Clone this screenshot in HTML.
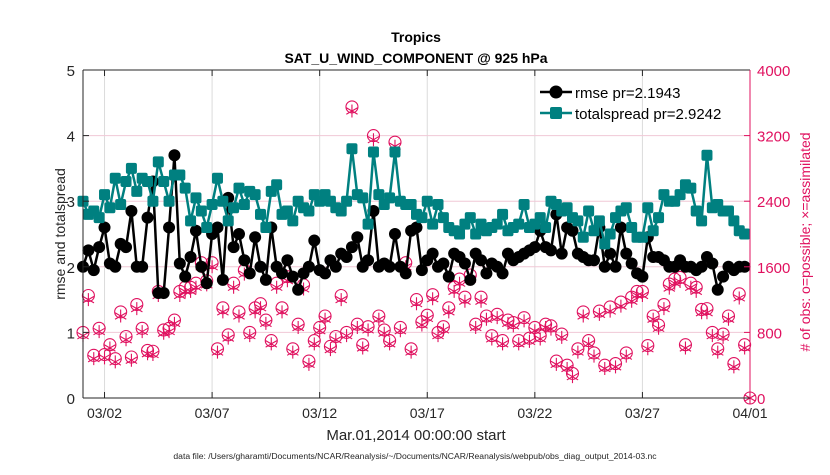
<!DOCTYPE html>
<html><head><meta charset="utf-8"><style>
body{margin:0;background:#fff;}
svg text{font-family:"Liberation Sans",sans-serif;}
</style></head><body>
<svg id="chart" width="830" height="470" viewBox="0 0 830 470" xmlns="http://www.w3.org/2000/svg">
<rect width="830" height="470" fill="#fff"/>
<g id="grid"></g>
<g id="series"></g>
<g id="axes"></g>
<text x="416" y="42" font-size="14" font-weight="bold" text-anchor="middle">Tropics</text>
<text x="416" y="63" font-size="14" font-weight="bold" text-anchor="middle">SAT_U_WIND_COMPONENT @ 925 hPa</text>
</svg>
<script>
const xTickLabels=["03/02","03/07","03/12","03/17","03/22","03/27","04/01"];
const xTickDays=[1,6,11,16,21,26,31];
const leftTicks=[0,1,2,3,4,5];
const rightTicks=[0,800,1600,2400,3200,4000];
const rmse=[2.0,2.25,1.95,2.3, 2.6,2.05,2.0,2.35, 2.3,2.85,2.0,2.0, 2.75,3.3,1.6,1.6, 2.6,3.7,2.05,1.85, 2.15,2.55,2.0,1.75, 2.5,2.6,1.8,3.05, 2.3,2.5,2.1,1.9, 2.45,2.0,1.8,2.6, 2.0,1.9,2.1,1.85, 1.65,1.9,2.0,2.4, 1.95,1.9,2.1,2.0, 2.2,2.15,2.3,2.45, 2.0,2.1,2.85,2.0, 2.05,2.0,2.5,2.0, 1.9,2.55,2.6,1.95, 2.1,2.2,2.0,2.05, 1.85,2.2,2.15,2.05, 1.8,2.2,2.1,1.9, 2.05,2.0,1.9,2.2, 2.1,2.15,2.2,2.25, 2.3,2.55,2.3,2.25, 2.8,2.2,2.6,2.55, 2.2,2.15,2.1,2.1, 2.6,2.0,2.2,2.0, 2.6,2.2,2.05,1.9, 1.85,2.45,2.15,2.15, 2.1,2.0,2.0,2.1, 2.0,2.0,1.95,2.0, 2.15,2.05,1.65,1.85, 2.0,1.95,2.0,2.0];
const spread=[3.0,2.8,2.85,2.75, 3.1,2.9,3.35,2.95, 3.3,3.5,3.15,3.35, 3.3,3.0,3.6,3.3, 3.0,3.4,3.4,3.2, 2.7,3.05,2.85,2.6, 2.95,3.35,3.0,2.7, 2.9,3.2,2.95,3.15, 3.1,2.8,2.6,3.15, 3.25,2.8,2.85,2.7, 3.0,2.9,2.85,3.1, 3.0,3.1,3.0,2.9, 2.85,3.0,3.8,3.1, 3.05,2.65,3.75,3.1, 2.95,3.05,3.75,3.0, 2.95,2.95,2.8,2.75, 3.0,2.65,2.95,2.75, 2.6,2.55,2.5,2.65, 2.75,2.5,2.65,2.55, 2.6,2.65,2.8,2.55, 2.6,2.65,2.95,2.6, 2.65,2.75,2.6,3.0, 2.95,2.85,2.9,2.75, 2.7,2.45,2.85,2.55, 2.7,2.35,2.5,2.75, 2.85,2.9,2.6,2.45, 2.45,2.9,2.55,2.75, 3.1,3.0,3.0,3.1, 3.25,3.2,2.85,2.7, 3.7,2.9,2.95,2.85, 2.85,2.7,2.55,2.5];
const obsPossible=[800,1250,520,850, 530,650,480,1050, 750,500,1140,850, 580,570,1300,830, 850,950,1300,1350, 1350,1400,1650,1430, 1650,600,1100,770, 1400,1050,1560,800, 1100,1150,950,700, 1400,1100,1480,600, 900,1380,450,700, 860,1000,630,750, 1250,800,3550,900, 650,870,3200,1000, 830,700,3120,860, 1650,600,1200,930, 1010,1260,800,870, 1100,1350,1450,1230, 1500,900,1230,1000, 760,1020,700,950, 920,700,980,730, 860,760,900,880, 450,780,400,300, 600,1050,700,550, 1060,400,1110,420, 1170,550,1230,1300, 1300,640,1000,890, 1140,1390,1450,1470, 650,1400,1350,1080, 1090,800,600,780, 1000,420,1270,650, 0];
const obsAssim=[760,1200,480,810, 490,610,440,1000, 710,460,1090,810, 540,530,1250,790, 810,910,1250,1300, 1300,1350,1600,1380, 1600,560,1050,730, 1350,1000,1510,760, 1050,1100,910,660, 1350,1050,1430,560, 860,1330,410,660, 820,960,590,710, 1200,760,3500,860, 610,830,3150,960, 790,660,3070,820, 1600,560,1150,890, 970,1210,760,830, 1050,1300,1400,1180, 1450,860,1180,960, 720,980,660,910, 880,660,940,690, 820,720,860,840, 410,740,360,260, 560,1000,660,510, 1020,360,1060,380, 1120,510,1180,1250, 1250,600,960,850, 1090,1340,1400,1420, 610,1350,1300,1040, 1040,760,560,740, 960,380,1220,610, 0];

const NS="http://www.w3.org/2000/svg";
const L=83,R=750,T=70,B=398;
const xOf=d=>L+(R-L)*d/31;
const xIdx=i=>xOf(i*0.25);
const yL=v=>B-(B-T)*v/5;
const yR=v=>B-(B-T)*v/4000;
function mk(tag,attrs,parent){const e=document.createElementNS(NS,tag);for(const k in attrs)e.setAttribute(k,attrs[k]);parent.appendChild(e);return e;}
const grid=document.getElementById('grid'),ser=document.getElementById('series'),ax=document.getElementById('axes');
xTickDays.forEach((d,i)=>{
  const x=xOf(d);
  if(d<31){const g=mk('line',{x1:x,x2:x,y1:T,y2:B,stroke:'#dcdcdc','stroke-width':1},grid);
  
  }
  const t1=mk('line',{x1:x,x2:x,y1:B,y2:B-6,stroke:'#262626'},ax);
  
  
  const t2=mk('line',{x1:x,x2:x,y1:T,y2:T+6,stroke:'#262626'},ax);
  
  
  const tx=mk('text',{x:x,y:B+20,'font-size':14,'text-anchor':'middle',fill:'#262626'},ax);
  tx.textContent=xTickLabels[i];
  
  
});
rightTicks.forEach(v=>{
  const y=yR(v);
  if(v>0&&v<4000){const g=mk('line',{x1:L,x2:R,y1:y,y2:y,stroke:'#f0c8d6','stroke-width':1},grid);
  
  }
  const t=mk('line',{x1:R,x2:R-6,y1:y,y2:y,stroke:'#e0115f'},ax);
  
  
  const tx=mk('text',{x:R+7,y:y+6,'font-size':15,fill:'#e0115f'},ax);
  tx.textContent=v;
  
  
});
leftTicks.forEach(v=>{
  const y=yL(v);
  const t=mk('line',{x1:L,x2:L+6,y1:y,y2:y,stroke:'#262626'},ax);
  
  
  const tx=mk('text',{x:L-8,y:y+6,'font-size':15,'text-anchor':'end',fill:'#262626'},ax);
  tx.textContent=v;
  
  
});
const lb=mk('line',{x1:L,x2:L,y1:T,y2:B,stroke:'#262626'},ax);


const bb=mk('line',{x1:L,x2:R,y1:B,y2:B,stroke:'#262626'},ax);


const tb=mk('line',{x1:L,x2:R,y1:T,y2:T,stroke:'#262626'},ax);


const rb=mk('line',{x1:R,x2:R,y1:T,y2:B,stroke:'#e0115f'},ax);


const yt=mk('text',{x:0,y:0,'font-size':14,'text-anchor':'middle',fill:'#262626',transform:`translate(65,${(T+B)/2}) rotate(-90)`},ax);
yt.textContent='rmse and totalspread';


const rt=mk('text',{x:0,y:0,'font-size':14,'text-anchor':'middle',fill:'#e0115f',transform:`translate(810,${(T+B)/2+8}) rotate(-90)`},ax);
rt.textContent='# of obs: o=possible; \u00d7=assimilated';


const xt=mk('text',{x:416,y:440,'font-size':15,'text-anchor':'middle',fill:'#262626'},ax);
xt.textContent='Mar.01,2014 00:00:00 start';


const df=mk('text',{x:415,y:459,'font-size':8.6,'text-anchor':'middle',fill:'#262626'},ax);
df.textContent='data file: /Users/gharamti/Documents/NCAR/Reanalysis/~/Documents/NCAR/Reanalysis/webpub/obs_diag_output_2014-03.nc';


const pink='#e0115f';
function star(x,y,r,parent){
  let d='';
  for(let k=0;k<3;k++){const a=Math.PI/2+k*Math.PI/3;d+=`M${x-r*Math.cos(a)},${y-r*Math.sin(a)}L${x+r*Math.cos(a)},${y+r*Math.sin(a)}`;}
  return mk('path',{d:d,stroke:pink,'stroke-width':1.1,fill:'none'},parent);
}
obsPossible.forEach((v,i)=>{
  const c=mk('circle',{cx:xIdx(i),cy:yR(v),r:6,fill:'none',stroke:pink,'stroke-width':1.1},ser);
  
  
});
obsAssim.forEach((v,i)=>{
  const s=star(xIdx(i),yR(v),6.5,ser);
  
  
});
const pr=mk('polyline',{points:rmse.map((v,i)=>xIdx(i)+','+yL(v)).join(' '),fill:'none',stroke:'#000','stroke-width':2.5},ser);


rmse.forEach((v,i)=>{
  const c=mk('circle',{cx:xIdx(i),cy:yL(v),r:6,fill:'#000'},ser);
  
  
});
const ps=mk('polyline',{points:spread.map((v,i)=>xIdx(i)+','+yL(v)).join(' '),fill:'none',stroke:'#008080','stroke-width':2.5},ser);


spread.forEach((v,i)=>{
  const c=mk('rect',{x:xIdx(i)-5.5,y:yL(v)-5.5,width:11,height:11,rx:2,fill:'#008080'},ser);
  
  
});
const lg=mk('g',{},ax);


const l1=mk('line',{x1:540,x2:572,y1:92,y2:92,stroke:'#000','stroke-width':2.5},lg);


const c1=mk('circle',{cx:556,cy:92,r:6.5,fill:'#000'},lg);


const t1=mk('text',{x:575,y:98,'font-size':15,fill:'#000'},lg);
t1.textContent='rmse pr=2.1943';


const l2=mk('line',{x1:540,x2:572,y1:113,y2:113,stroke:'#008080','stroke-width':2.5},lg);


const r2=mk('rect',{x:550,y:107,width:12,height:12,rx:2,fill:'#008080'},lg);


const t2=mk('text',{x:575,y:119,'font-size':15,fill:'#000'},lg);
t2.textContent='totalspread pr=2.9242';


</script>
</body></html>
